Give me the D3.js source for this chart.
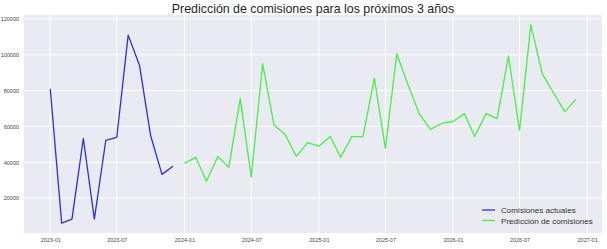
<!DOCTYPE html>
<html>
<head>
<meta charset="utf-8">
<script src="https://cdn.jsdelivr.net/npm/d3@7"></script>
<style>
  body { margin: 0; background: #fff; }
  svg { display: block; font-family: "Liberation Sans", Arial, sans-serif; }
</style>
</head>
<body>
<svg width="607" height="249"></svg>
<script>
const width = 607, height = 249;
const margin = {top: 15, right: 5, bottom: 16, left: 24};
const plotW = width - margin.left - margin.right,
      plotH = height - margin.top - margin.bottom;

// actual commissions, monthly from 2023-01
const actualStart = "2023-01";
const actualValues = [81000, 6100, 8300, 53300, 8300, 52200, 54000, 111000, 94000, 55000, 33300, 37800];

// forecast, monthly from 2024-01 (36 months)
const forecastStart = "2024-01";
const forecastValues = [
    39400, 42800, 29400, 43300, 37200, 75600, 31700, 95000, 60800, 55500, 43300, 51000,
    49000, 54400, 42800, 54400, 54400, 87000, 47800, 100600, 83000, 67200, 58300, 61700,
    62800, 67200, 54400, 67200, 64400, 99400, 57800, 116700, 89400, 79000, 68300, 75000
];

const yTicks = [20000, 40000, 60000, 80000, 100000, 120000];
const xTickLabels = ["2023-01", "2023-07", "2024-01", "2024-07", "2025-01", "2025-07", "2026-01", "2026-07", "2027-01"];

const seriesNames = ["Comisiones actuales", "Predicción de comisiones"];
const seriesColors = ["#2f2fdc", "#46ee46"];

const parseMonth = d3.timeParse("%Y-%m");

function toPoints(start, values) {
    const s = parseMonth(start);
    return values.map((v, i) => ({date: d3.timeMonth.offset(s, i), value: v}));
}

const actual = toPoints(actualStart, actualValues);
const forecast = toPoints(forecastStart, forecastValues);
const all = actual.concat(forecast);

const svg = d3.select("svg");

// x domain with 5% padding like matplotlib
const xExt = d3.extent(all, d => d.date);
const xPad = (xExt[1] - xExt[0]) * 0.05;
const x = d3.scaleTime()
    .domain([new Date(+xExt[0] - xPad), new Date(+xExt[1] + xPad)])
    .range([0, plotW]);

const yExt = d3.extent(all, d => d.value);
const yPad = (yExt[1] - yExt[0]) * 0.05;
const y = d3.scaleLinear()
    .domain([yExt[0] - yPad, yExt[1] + yPad])
    .range([plotH, 0]);

const g = svg.append("g")
    .attr("transform", `translate(${margin.left},${margin.top})`);

g.append("rect")
    .attr("width", plotW)
    .attr("height", plotH)
    .attr("fill", "#eaeaf2");

// grid
const xTicks = xTickLabels.map(parseMonth);
g.selectAll("line.xgrid")
    .data(xTicks)
    .join("line")
    .attr("class", "xgrid")
    .attr("x1", d => x(d)).attr("x2", d => x(d))
    .attr("y1", 0).attr("y2", plotH)
    .attr("stroke", "#fff")
    .attr("stroke-width", 1);

g.selectAll("line.ygrid")
    .data(yTicks)
    .join("line")
    .attr("class", "ygrid")
    .attr("x1", 0).attr("x2", plotW)
    .attr("y1", d => y(d)).attr("y2", d => y(d))
    .attr("stroke", "#fff")
    .attr("stroke-width", 1);

// axes (no domain line, no tick marks)
const xAxis = g.append("g")
    .attr("transform", `translate(0,${plotH})`)
    .call(d3.axisBottom(x).tickValues(xTicks).tickFormat(d3.timeFormat("%Y-%m")).tickSize(0).tickPadding(5));
const yAxis = g.append("g")
    .call(d3.axisLeft(y).tickValues(yTicks).tickFormat(d3.format("d")).tickSize(0).tickPadding(5));

[xAxis, yAxis].forEach(a => {
    a.select(".domain").remove();
    a.selectAll("text")
        .attr("font-family", "Liberation Sans, Arial, sans-serif")
        .attr("font-size", 5.5)
        .attr("fill", "#444");
});

// lines
const line = d3.line()
    .x(d => x(d.date))
    .y(d => y(d.value));

[actual, forecast].forEach((data, i) => {
    g.append("path")
        .datum(data)
        .attr("fill", "none")
        .attr("stroke", seriesColors[i])
        .attr("stroke-width", 1.3)
        .attr("stroke-linejoin", "round")
        .attr("d", line);
});

// title
svg.append("text")
    .attr("x", margin.left + plotW / 2)
    .attr("y", 13)
    .attr("text-anchor", "middle")
    .attr("font-size", 12.4)
    .attr("fill", "#262626")
    .text("Predicción de comisiones para los próximos 3 años");

// legend
const legend = svg.append("g")
    .attr("transform", "translate(482,210)");

const items = legend.selectAll("g")
    .data(seriesNames)
    .join("g")
    .attr("transform", (d, i) => `translate(0,${i * 10.5})`);

items.append("line")
    .attr("x1", 0).attr("x2", 13)
    .attr("stroke", (d, i) => seriesColors[i])
    .attr("stroke-width", 1.3);

items.append("text")
    .attr("x", 19)
    .attr("y", 3)
    .attr("font-size", 8.1)
    .attr("fill", "#333")
    .text(d => d);
</script>
</body>
</html>
